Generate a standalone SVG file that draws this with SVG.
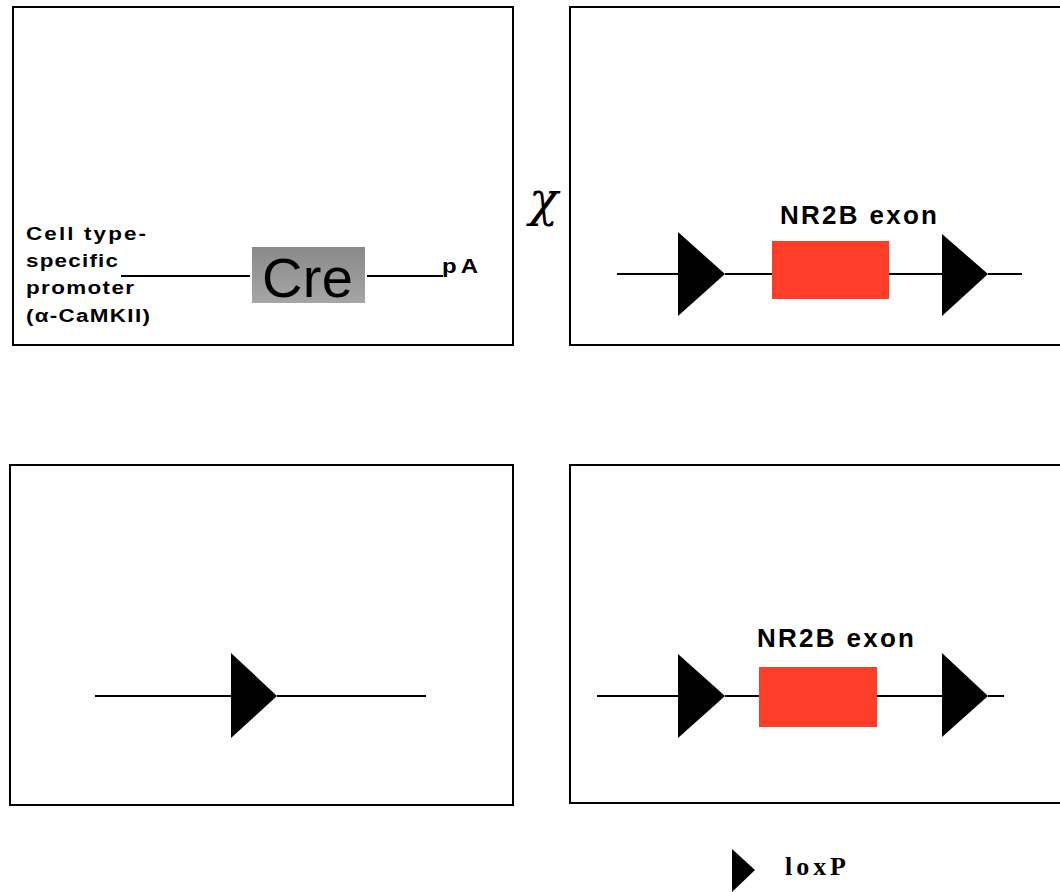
<svg xmlns="http://www.w3.org/2000/svg" width="1060" height="892" viewBox="0 0 1060 892">
<style>
.box{fill:#fff;stroke:#000;stroke-width:2}
.ln{stroke:#000;stroke-width:2;fill:none}
.tri{fill:#000}
.exon{fill:#ff3d29}
.lbl{font-family:"Liberation Sans",Arial,sans-serif;font-weight:bold;fill:#000}
</style>
<defs>
<linearGradient id="creg" x1="0" y1="0" x2="0" y2="1">
<stop offset="0" stop-color="#8a8a8a"/>
<stop offset="1" stop-color="#a6a6a6"/>
</linearGradient>
</defs>
<rect width="1060" height="892" fill="#fff"/>
<g id="panel-cre">
<rect class="box" x="13" y="7" width="500" height="338"/>
<g transform="translate(26,0) scale(1.18,1)">
<text class="lbl" font-size="19" x="0" y="240" textLength="101.7" lengthAdjust="spacing">Cell  type-</text>
<text class="lbl" font-size="19" x="0" y="267" textLength="78" lengthAdjust="spacing">specific</text>
<text class="lbl" font-size="19" x="0" y="294" textLength="91.5" lengthAdjust="spacing">promoter</text>
<text class="lbl" font-size="19" x="0" y="322" textLength="105" lengthAdjust="spacing">(α-CaMKII)</text>
</g>
<rect x="252" y="247" width="113" height="56" fill="url(#creg)"/>
<text x="262" y="297" font-family="Liberation Sans,Arial,sans-serif" font-size="56" textLength="91" lengthAdjust="spacing">Cre</text>
<text class="lbl" font-size="20" transform="translate(442,273) scale(1.2,1)" x="0" y="0" textLength="30" lengthAdjust="spacing">pA</text>
</g>
<g id="cross">
<text x="529" y="216" font-family="DejaVu Serif,serif" font-style="italic" font-size="48">χ</text>
</g>
<g id="panel-flox">
<rect class="box" x="570" y="7" width="500" height="338"/>
<text class="lbl" font-size="26" x="780" y="224" textLength="157" lengthAdjust="spacing">NR2B exon</text>
<rect class="exon" x="772" y="241" width="117" height="58"/>
<polygon class="tri" points="678,232 725,274 678,316"/>
<polygon class="tri" points="942,234 988,274 942,316"/>
</g>
<g id="panel-deleted">
<rect class="box" x="10" y="465" width="503" height="340"/>
<polygon class="tri" points="231,653 277,696 231,738"/>
</g>
<g id="panel-flox2">
<rect class="box" x="570" y="465" width="500" height="338"/>
<text class="lbl" font-size="26" x="757" y="647" textLength="157" lengthAdjust="spacing">NR2B exon</text>
<rect class="exon" x="759" y="667" width="118" height="60"/>
<polygon class="tri" points="678,654 725,696 678,738"/>
<polygon class="tri" points="942,653 988,696 942,737"/>
</g>
<g id="legend">
<polygon class="tri" points="732,849 755,870 732,892"/>
<text x="785" y="875" font-family="Liberation Serif,'Times New Roman',serif" font-weight="bold" font-size="26" textLength="61" lengthAdjust="spacing">loxP</text>
</g>
<g id="connectors">
<line class="ln" x1="121" y1="276" x2="250" y2="276"/>
<line class="ln" x1="367" y1="276" x2="443" y2="276"/>
<line class="ln" x1="617" y1="274" x2="678" y2="274"/>
<line class="ln" x1="725" y1="274" x2="772" y2="274"/>
<line class="ln" x1="889" y1="274" x2="942" y2="274"/>
<line class="ln" x1="988" y1="274" x2="1022" y2="274"/>
<line class="ln" x1="95" y1="696" x2="231" y2="696"/>
<line class="ln" x1="277" y1="696" x2="426" y2="696"/>
<line class="ln" x1="597" y1="696" x2="678" y2="696"/>
<line class="ln" x1="725" y1="696" x2="759" y2="696"/>
<line class="ln" x1="877" y1="696" x2="942" y2="696"/>
<line class="ln" x1="988" y1="696" x2="1004" y2="696"/>
</g>
</svg>
